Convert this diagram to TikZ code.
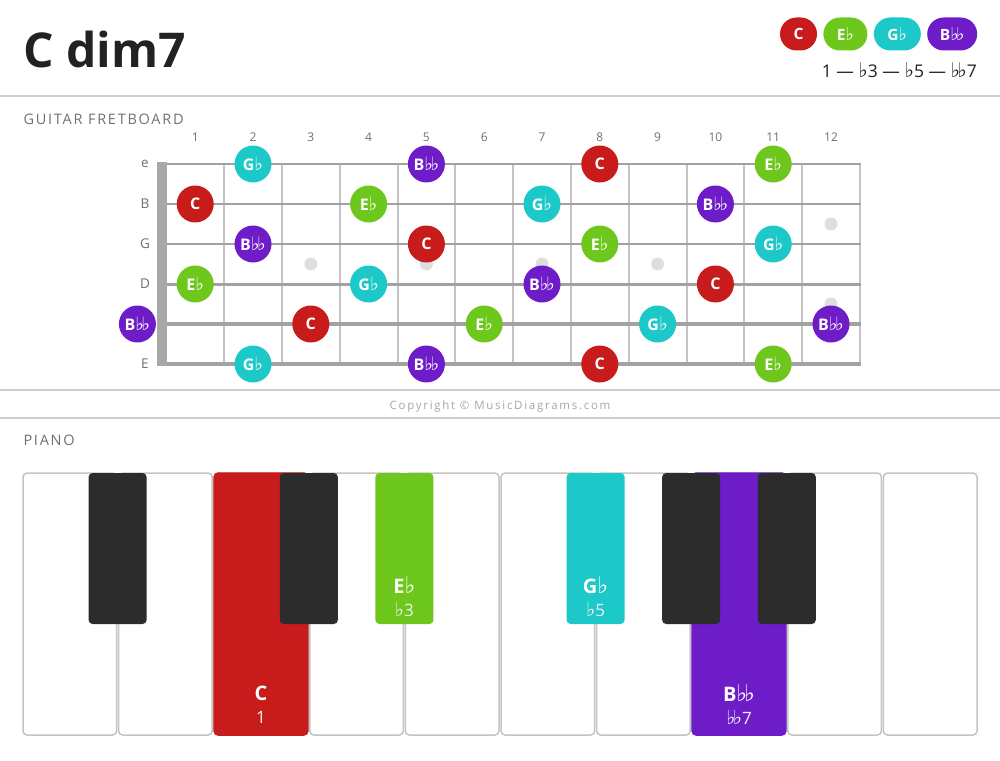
\documentclass[tikz,border=0pt]{standalone}
\usepackage{fontspec}
\setmainfont{Open Sans}
\newfontfamily\symfont{DejaVu Sans}
\usetikzlibrary{positioning}

\definecolor{rootred}{HTML}{C81B1B}
\definecolor{thirdgreen}{HTML}{6EC71C}
\definecolor{fifthcyan}{HTML}{1CC8C8}
\definecolor{seventhpurple}{HTML}{6E1CC8}
\definecolor{rulegray}{HTML}{CFCFCF}
\definecolor{labelgray}{HTML}{707070}
\definecolor{copygray}{HTML}{A6A6A6}
\definecolor{fretgray}{HTML}{C4C4C4}
\definecolor{stringgray}{HTML}{A2A2A2}
\definecolor{nutgray}{HTML}{A8A8A8}
\definecolor{inlaygray}{HTML}{DEDEDE}
\definecolor{blackkey}{HTML}{2C2C2C}
\definecolor{keyedge}{HTML}{C4C4C4}
\definecolor{titlegray}{HTML}{222222}

\newcommand{\fl}{{\symfont\scalebox{1.15}{♭}}}
\newcommand{\dfl}{{\symfont\scalebox{1.15}{♭\kern-.14em♭}}}

\tikzset{
  note/.style={circle, minimum size=37pt, inner sep=0pt, text=white,
    font=\fontsize{16}{16}\selectfont\bfseries},
  pill/.style={rectangle, rounded corners=16.5pt, minimum height=33pt, inner sep=0pt,
    text=white, font=\fontsize{15.5}{15.5}\selectfont\bfseries},
  heading/.style={anchor=west, text=labelgray,
    font=\fontsize{14.5}{15}\selectfont\addfontfeature{LetterSpace=12}},
  fretnum/.style={text=labelgray, font=\fontsize{12}{12}\selectfont},
  stringname/.style={text=labelgray, font=\fontsize{13.5}{13.5}\selectfont},
  fretline/.style={draw=fretgray, line width=2pt},
  inlay/.style={circle, fill=inlaygray, minimum size=13pt, inner sep=0pt},
  whitekey/.style={draw=keyedge, line width=1.5pt, rounded corners=4pt},
  keyname/.style={text=white, font=\fontsize{20}{20}\selectfont\bfseries},
  keyint/.style={text=white!90!gray, font=\fontsize{17}{17}\selectfont},
}

\begin{document}
\begin{tikzpicture}[x=1pt, y=-1pt]
  \useasboundingbox (0,0) rectangle (1000,760);

  % title and legend
  \node[anchor=base west, inner sep=0pt, text=titlegray,
    font=\fontsize{48}{48}\selectfont\bfseries] (title) at (23,67) {C dim7};
  \node[pill, fill=rootred, minimum width=37pt] (legC) at (798.5,34) {C};
  \node[pill, fill=thirdgreen, minimum width=44pt, right=6pt of legC] (legEb) {E\fl};
  \node[pill, fill=fifthcyan, minimum width=47pt, right=6pt of legEb] (legGb) {G\fl};
  \node[pill, fill=seventhpurple, minimum width=50pt, right=6pt of legGb] (legBbb) {B\dfl};
  \node[anchor=east, inner sep=0pt, text=titlegray, font=\fontsize{17.5}{17.5}\selectfont]
    (formula) at (977,70) {1 — \fl3 — \fl5 — \dfl7};

  \draw[rulegray, line width=2pt] (0,96) -- (1000,96);
  \draw[rulegray, line width=2pt] (0,390) -- (1000,390);
  \draw[rulegray, line width=2pt] (0,418) -- (1000,418);

  % fretboard
  \node[heading] (guitar) at (20,119) {GUITAR FRETBOARD};
  \foreach \fr in {1,...,12}
    \node[fretnum] (fn\fr) at ({166.3+57.8*(\fr-0.5)},137) {\fr};
  \foreach \fr in {1,...,12}
    \draw[fretline] ({166.3+57.8*\fr},164) -- ({166.3+57.8*\fr},364);
  \foreach \st/\w in {1/2,2/2.3,3/2.6,4/3,5/3.4,6/3.8}
    \draw[stringgray, line width=\w pt] (157,{124+40*\st}) -- (861,{124+40*\st});
  \fill[nutgray] (157,162) rectangle (167,366);
  \foreach \st/\nm in {1/e,2/B,3/G,4/D,6/E}
    \node[stringname] (sn\st) at (145,{124+40*\st}) {\nm};
  \foreach \fr/\st in {3/3.5,5/3.5,7/3.5,9/3.5,12/2.5,12/4.5}
    \node[inlay] at ({166.3+57.8*(\fr-0.5)},{124+40*\st}) {};

  \foreach \fr/\st/\col/\txt in {
      2/1/fifthcyan/G\fl, 5/1/seventhpurple/B\dfl, 8/1/rootred/C, 11/1/thirdgreen/E\fl,
      1/2/rootred/C, 4/2/thirdgreen/E\fl, 7/2/fifthcyan/G\fl, 10/2/seventhpurple/B\dfl,
      2/3/seventhpurple/B\dfl, 5/3/rootred/C, 8/3/thirdgreen/E\fl, 11/3/fifthcyan/G\fl,
      1/4/thirdgreen/E\fl, 4/4/fifthcyan/G\fl, 7/4/seventhpurple/B\dfl, 10/4/rootred/C,
      0/5/seventhpurple/B\dfl, 3/5/rootred/C, 6/5/thirdgreen/E\fl, 9/5/fifthcyan/G\fl,
      12/5/seventhpurple/B\dfl,
      2/6/fifthcyan/G\fl, 5/6/seventhpurple/B\dfl, 8/6/rootred/C, 11/6/thirdgreen/E\fl}
    \node[note, fill=\col] (n\st-\fr) at ({166.3+57.8*(\fr-0.5)},{124+40*\st}) {\txt};

  \node[text=copygray, font=\fontsize{11.5}{11.5}\selectfont\addfontfeature{LetterSpace=15}]
    (copy) at (500,407) {Copyright © MusicDiagrams.com};

  % piano
  \node[heading] (piano) at (20,440) {PIANO};
  \foreach \i in {0,...,9}
    \draw[whitekey, fill=white] ({22+95.6*\i+1},473) rectangle ({22+95.6*(\i+1)-1},735);
  \draw[whitekey, draw=rootred, fill=rootred] (214.2,473) rectangle (307.8,735);
  \draw[whitekey, draw=seventhpurple, fill=seventhpurple] (692.2,473) rectangle (785.8,735);
  \foreach \b/\col in {1/blackkey,3/blackkey,4/thirdgreen,6/fifthcyan,7/blackkey,8/blackkey}
    \fill[\col, rounded corners=4pt] ({22+95.6*\b-29},473) rectangle ({22+95.6*\b+29},624);

  \node[keyname] (kC) at (261,693) {C};
  \node[keyint] (kCi) at (261,717) {1};
  \node[keyname] (kEb) at (404.4,585) {E\fl};
  \node[keyint] (kEbi) at (404.4,609) {\fl3};
  \node[keyname] (kGb) at (595.6,585) {G\fl};
  \node[keyint] (kGbi) at (595.6,609) {\fl5};
  \node[keyname] (kBbb) at (739,693) {B\dfl};
  \node[keyint] (kBbbi) at (739,717) {\dfl7};
\end{tikzpicture}
\end{document}
